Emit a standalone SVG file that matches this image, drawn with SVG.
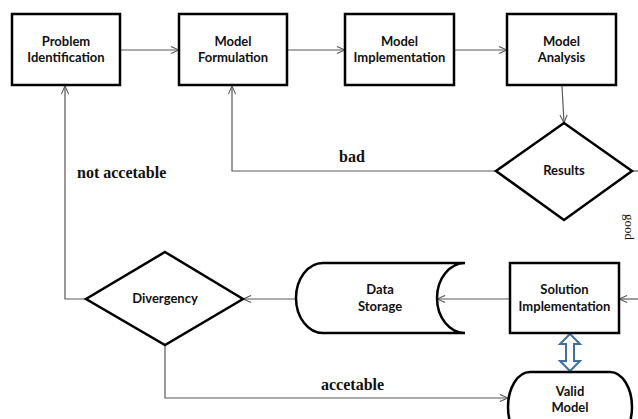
<svg xmlns="http://www.w3.org/2000/svg" width="638" height="419" viewBox="0 0 638 419">
<defs>
<style>
.box{fill:#fff;stroke:#000;stroke-width:2.5}
.lbl{font-family:Lato,"Liberation Sans",sans-serif;font-weight:bold;font-size:13px;fill:#111;text-anchor:middle}
.edge{fill:none;stroke:#595959;stroke-width:1.2}
.elbl{font-family:"Liberation Serif",serif;font-weight:bold;font-size:16px;fill:#111}
</style>
<marker id="ah" viewBox="0 0 10 10" refX="10" refY="5" markerWidth="9" markerHeight="9" markerUnits="userSpaceOnUse" orient="auto">
<path d="M1,1 L10,5 L1,9" fill="none" stroke="#595959" stroke-width="1.2"/>
</marker>
</defs>
<rect width="638" height="419" fill="#fff"/>
<g id="connectors">
<line class="edge" x1="120" y1="50" x2="179" y2="50" marker-end="url(#ah)"/>
<line class="edge" x1="287" y1="50" x2="345" y2="50" marker-end="url(#ah)"/>
<line class="edge" x1="454" y1="50" x2="507" y2="50" marker-end="url(#ah)"/>
<line class="edge" x1="562" y1="86" x2="564" y2="123" marker-end="url(#ah)"/>
<polyline class="edge" points="496,171 232,171 232,86" marker-end="url(#ah)"/>
<line class="edge" x1="632" y1="171" x2="640" y2="171"/>
<line class="edge" x1="640" y1="299" x2="619" y2="299" marker-end="url(#ah)"/>
<line class="edge" x1="510" y1="299" x2="437" y2="299" marker-end="url(#ah)"/>
<line class="edge" x1="296" y1="299" x2="243" y2="299" marker-end="url(#ah)"/>
<polyline class="edge" points="86,299 65,299 65,86" marker-end="url(#ah)"/>
<polyline class="edge" points="165,345 165,398 508,398" marker-end="url(#ah)"/>
<polygon points="570,334 580,344 574,344 574,361 580,361 570,371 560,361 566,361 566,344 560,344" fill="#fff" stroke="#41719c" stroke-width="2"/>
<text class="elbl" x="339" y="162">bad</text>
<text class="elbl" x="77" y="178">not accetable</text>
<text class="elbl" x="321" y="390">accetable</text>
<text x="625" y="214" transform="rotate(90 625 214)" font-family="'Liberation Serif',serif" font-size="13" fill="#111">good</text>
</g>
<g id="problem-identification">
<rect class="box" x="12" y="14" width="108" height="71"/>
<text class="lbl" x="66" y="46">Problem</text>
<text class="lbl" x="66" y="62">Identification</text>
</g>
<g id="model-formulation">
<rect class="box" x="179" y="14" width="108" height="71"/>
<text class="lbl" x="233" y="46">Model</text>
<text class="lbl" x="233" y="62">Formulation</text>
</g>
<g id="model-implementation">
<rect class="box" x="345" y="14" width="109" height="71"/>
<text class="lbl" x="399.5" y="46">Model</text>
<text class="lbl" x="399.5" y="62">Implementation</text>
</g>
<g id="model-analysis">
<rect class="box" x="507" y="14" width="109" height="71"/>
<text class="lbl" x="561.5" y="46">Model</text>
<text class="lbl" x="561.5" y="62">Analysis</text>
</g>
<g id="results">
<polygon class="box" points="564,123 632,171 564,220 496,171"/>
<text class="lbl" x="564" y="175">Results</text>
</g>
<g id="divergency">
<polygon class="box" points="165,252 243,299 165,345 86,299"/>
<text class="lbl" x="165" y="303">Divergency</text>
</g>
<g id="data-storage">
<path class="box" d="M323,263 H465 A28,35 0 0 0 465,333 H323 A27,35 0 0 1 323,263 Z"/>
<text class="lbl" x="380" y="294">Data</text>
<text class="lbl" x="380" y="311">Storage</text>
</g>
<g id="solution-implementation">
<rect class="box" x="510" y="263" width="109" height="70"/>
<text class="lbl" x="564.5" y="294">Solution</text>
<text class="lbl" x="564.5" y="311">Implementation</text>
</g>
<g id="valid-model">
<rect class="box" x="508" y="372" width="124" height="70" rx="22" ry="35"/>
<text class="lbl" x="570" y="396">Valid</text>
<text class="lbl" x="570" y="412">Model</text>
</g>
</svg>
